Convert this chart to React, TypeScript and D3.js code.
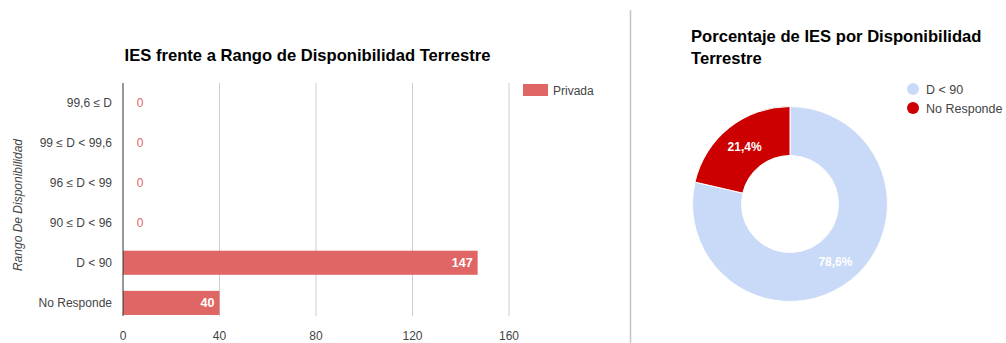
import React from "react";
import * as d3 from "d3";

const categories = ["99,6 ≤ D", "99 ≤ D < 99,6", "96 ≤ D < 99", "90 ≤ D < 96", "D < 90", "No Responde"];
const privada = [0, 0, 0, 0, 147, 40];
const xTicks = [0, 40, 80, 120, 160];

const pieLabels = ["D < 90", "No Responde"];
const pieValues = [147, 40];
const pieColors = ["#c9daf8", "#cc0000"];

const FONT = "Liberation Sans, Arial, sans-serif";

export default function App() {
  const x = d3.scaleLinear().domain([0, 160]).range([123, 509]);
  const y = d3.scaleBand<string>().domain(categories).range([82, 323]).paddingInner(0.4).paddingOuter(0.2);
  const barColor = "#e06666";

  const pie = d3.pie<number>().sort(null).value((d) => d)(pieValues);
  const cx = 790, cy = 204, rOut = 97.5, rIn = 48.5;
  const arc = d3.arc<d3.PieArcDatum<number>>().innerRadius(rIn).outerRadius(rOut);
  const total = d3.sum(pieValues);
  const fmt = (v: number) => ((v / total) * 100).toFixed(1).replace(".", ",") + "%";

  return (
    <svg width={1006} height={343} style={{ position: "absolute", left: 0, top: 0, background: "#fff" }} fontFamily={FONT}>
      <rect width={1006} height={343} fill="#fff" />
      {/* Bar chart title */}
      <text x={307.5} y={61} textAnchor="middle" fontSize={16.6} fontWeight="bold" fill="#000">
        IES frente a Rango de Disponibilidad Terrestre
      </text>
      {/* Gridlines */}
      {xTicks.map((t) => (
        <g key={t}>
          {t !== 0 && <line x1={x(t)} x2={x(t)} y1={83} y2={316} stroke="#cccccc" strokeWidth={1} />}
          <text x={x(t)} y={340} textAnchor="middle" fontSize={12} fill="#444">{t}</text>
        </g>
      ))}
      {/* Bars */}
      {categories.map((c, i) => {
        const v = privada[i];
        const by = y(c)!;
        const bh = y.bandwidth();
        return (
          <g key={c}>
            {v > 0 && <rect x={x(0)} y={by} width={x(v) - x(0)} height={bh} fill={barColor} />}
            {v > 0 ? (
              <text x={x(v) - 5} y={by + bh / 2 + 4.5} textAnchor="end" fontSize={12.5} fontWeight="bold" fill="#fff">{v}</text>
            ) : (
              <text x={x(0) + 17} y={by + bh / 2 + 4.5} textAnchor="middle" fontSize={12} fill={barColor}>{v}</text>
            )}
            <text x={112} y={by + bh / 2 + 4.5} textAnchor="end" fontSize={12} fill="#444">{c}</text>
          </g>
        );
      })}
      {/* Baseline */}
      <line x1={x(0)} x2={x(0)} y1={83} y2={316} stroke="#333" strokeWidth={1} />
      {/* Y axis title */}
      <text transform="translate(22,205) rotate(-90)" textAnchor="middle" fontSize={12} fontStyle="italic" fill="#444">
        Rango De Disponibilidad
      </text>
      {/* Legend */}
      <rect x={523} y={84} width={25} height={12} fill={barColor} />
      <text x={553} y={94.5} fontSize={12} fill="#444">Privada</text>

      {/* Separator */}
      <line x1={630.5} x2={630.5} y1={10} y2={343} stroke="#c4c4c4" strokeWidth={1.5} />

      {/* Pie title */}
      <text x={691} y={42} fontSize={16.6} fontWeight="bold" fill="#000">Porcentaje de IES por Disponibilidad</text>
      <text x={691} y={64} fontSize={16.6} fontWeight="bold" fill="#000">Terrestre</text>

      {/* Donut */}
      <g transform={`translate(${cx},${cy})`}>
        {pie.map((p, i) => (
          <path key={i} d={arc(p)!} fill={pieColors[i]} stroke="#fff" strokeWidth={1} />
        ))}
        {pie.map((p, i) => {
          const [lx, ly] = arc.centroid(p);
          return (
            <text key={"l" + i} x={lx} y={ly + 4.5} textAnchor="middle" fontSize={12} fontWeight="bold" fill="#fff">
              {fmt(p.value)}
            </text>
          );
        })}
      </g>

      {/* Pie legend */}
      {pieLabels.map((l, i) => (
        <g key={l}>
          <circle cx={913} cy={89 + i * 19} r={6} fill={pieColors[i]} />
          <text x={926} y={93.5 + i * 19} fontSize={12.5} fill="#444">{l}</text>
        </g>
      ))}
    </svg>
  );
}
